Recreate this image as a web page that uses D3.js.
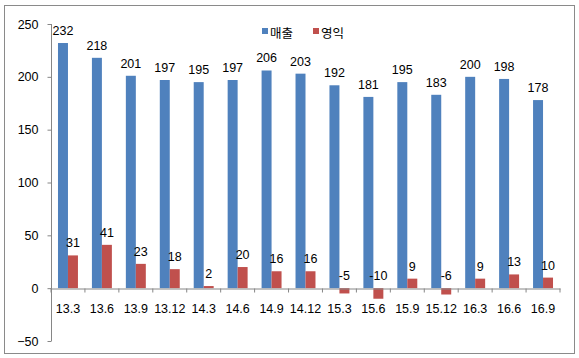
<!DOCTYPE html>
<meta charset="utf-8">
<style>
  body { margin: 0; background: #fff; }
  text { font-family: "Liberation Sans", "Noto Sans CJK KR", sans-serif; fill: #000; }
</style>
<svg width="579" height="358"></svg>
<script src="https://d3js.org/d3.v7.min.js"></script>
<script>
    var quarters = ['13.3', '13.6', '13.9', '13.12', '14.3', '14.6', '14.9', '14.12', '15.3', '15.6', '15.9', '15.12', '16.3', '16.6', '16.9']
    var sales = [232, 218, 201, 197, 195, 197, 206, 203, 192, 181, 195, 183, 200, 198, 178]
    var profit = [31, 41, 23, 18, 2, 20, 16, 16, -5, -10, 9, -6, 9, 13, 10]
    var yTicks = [-50, 0, 50, 100, 150, 200, 250]
    var seriesNames = ['매출', '영익']
    var colors = ['#4F81BD', '#C0504D']

    var svg = d3.select('svg')

    // outer frame
    svg.append('rect')
        .attr('x', 4.5).attr('y', 5.5)
        .attr('width', 570).attr('height', 348)
        .attr('fill', 'none').attr('stroke', '#8a8a8a')

    var x = d3.scaleBand().domain(quarters).range([51, 560])
    var y = d3.scaleLinear().domain([-50, 250]).range([341, 24])

    var inner = d3.scaleBand().domain([0, 1]).range([0, x.bandwidth()]).paddingOuter(0.7).paddingInner(0)

    // y axis
    var yAxis = svg.append('g').attr('transform', 'translate(51.5,0)')
        .call(d3.axisLeft(y).tickValues(yTicks).tickSize(4).tickPadding(9))
    yAxis.select('.domain').attr('stroke', '#868686').attr('d', 'M0,' + y(-50) + 'V' + y(250))
    yAxis.selectAll('.tick line').attr('stroke', '#868686')
    yAxis.selectAll('.tick text').attr('font-size', 12.5)

    var rows = quarters.map(function (q, i) { return { q: q, v: [sales[i], profit[i]] } })

    var groups = svg.append('g').selectAll('g')
        .data(rows)
        .enter().append('g')
        .attr('transform', function (d) { return 'translate(' + x(d.q) + ',0)' })

    groups.selectAll('rect')
        .data(function (d) { return d.v.map(function (v, k) { return { v: v, k: k } }) })
        .enter().append('rect')
        .attr('x', function (d) { return inner(d.k) })
        .attr('width', inner.bandwidth())
        .attr('y', function (d) { return y(Math.max(0, d.v)) })
        .attr('height', function (d) { return Math.abs(y(d.v) - y(0)) })
        .attr('fill', function (d) { return colors[d.k] })

    groups.selectAll('text.lbl')
        .data(function (d) { return d.v.map(function (v, k) { return { v: v, k: k } }) })
        .enter().append('text')
        .attr('class', 'lbl')
        .attr('x', function (d) { return inner(d.k) + inner.bandwidth() / 2 })
        .attr('y', function (d) { return y(Math.max(0, d.v)) - 8 })
        .attr('text-anchor', 'middle')
        .attr('font-size', 12.5)
        .text(function (d) { return d.v })

    // x axis at zero
    var xAxis = svg.append('g').attr('transform', 'translate(0,' + (Math.round(y(0)) + 0.5) + ')')
        .call(d3.axisBottom(x).tickSize(0).tickPadding(16))
    xAxis.select('.domain').attr('stroke', '#868686')
    xAxis.selectAll('.tick text').attr('font-size', 12.5)
    xAxis.selectAll('.sep')
        .data(quarters.concat(['end']))
        .enter().append('line')
        .attr('x1', function (d, i) { return 51 + i * x.step() })
        .attr('x2', function (d, i) { return 51 + i * x.step() })
        .attr('y1', 0).attr('y2', 4)
        .attr('stroke', '#868686')

    // legend
    var legend = svg.append('g').attr('transform', 'translate(262,33)')
    var offs = [0, 51]
    seriesNames.forEach(function (n, i) {
        legend.append('rect').attr('x', offs[i]).attr('y', -5).attr('width', 6).attr('height', 6).attr('fill', colors[i])
        legend.append('text').attr('x', offs[i] + 8).attr('y', 4.5).attr('font-size', 12.5).text(n)
    })
</script>
